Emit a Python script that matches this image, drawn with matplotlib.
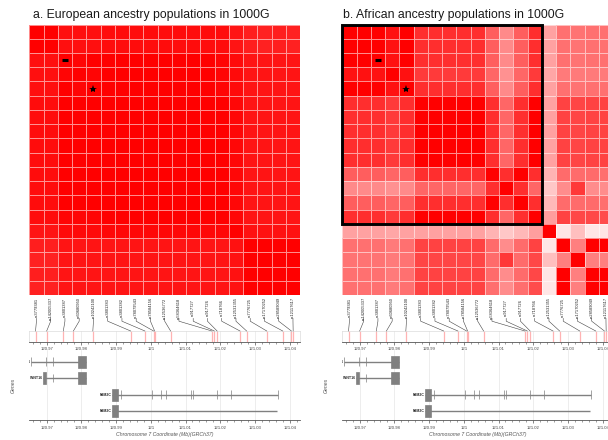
import numpy as np
import matplotlib
matplotlib.use("Agg")
import matplotlib.pyplot as plt
from matplotlib.colors import LinearSegmentedColormap
from matplotlib.patches import Rectangle
from matplotlib.ticker import MultipleLocator, FuncFormatter

plt.rcParams['font.family'] = ['Liberation Sans', 'DejaVu Sans']

# ---------------- data ----------------
snp_ids = ["rs3779381", "rs142005337", "rs3801387", "rs60680950", "rs10242100",
           "rs3801383", "rs3801382", "rs78079543", "rs78584156", "rs12536772",
           "rs58364618", "rs917727", "rs917726", "rs718766", "rs12531355",
           "rs7776725", "rs17170252", "rs28589049", "rs12117617"]
snp_pos_mb = [120.9668, 120.9700, 120.9748, 120.9777, 120.9833,
              120.9942, 120.9983, 121.0008, 121.0011, 121.0057,
              121.0176, 121.0183, 121.0191, 121.0257, 121.0276,
              121.0334, 121.0380, 121.0405, 121.0410]

# r2 matrix, European ancestry (panel a)
r2_eur = [
 [1.00, 1.00, 0.94, 0.94, 0.94, 0.95, 0.95, 0.95, 0.95, 0.95, 0.95, 0.95, 0.95, 0.95, 0.92, 0.88, 0.87, 0.88, 0.87],
 [1.00, 1.00, 0.94, 0.94, 0.94, 0.95, 0.95, 0.95, 0.95, 0.95, 0.95, 0.95, 0.95, 0.95, 0.92, 0.88, 0.87, 0.88, 0.87],
 [0.94, 0.94, 1.00, 0.98, 1.00, 1.00, 1.00, 1.00, 1.00, 1.00, 1.00, 1.00, 1.00, 0.98, 0.96, 0.92, 0.92, 0.92, 0.92],
 [0.94, 0.94, 0.98, 1.00, 0.98, 1.00, 1.00, 1.00, 1.00, 1.00, 1.00, 1.00, 1.00, 0.98, 0.96, 0.92, 0.92, 0.92, 0.92],
 [0.94, 0.94, 1.00, 0.98, 1.00, 1.00, 1.00, 1.00, 1.00, 1.00, 1.00, 1.00, 1.00, 0.98, 0.96, 0.92, 0.92, 0.92, 0.92],
 [0.95, 0.95, 1.00, 1.00, 1.00, 1.00, 1.00, 1.00, 1.00, 1.00, 1.00, 1.00, 1.00, 1.00, 0.97, 0.92, 0.92, 0.92, 0.92],
 [0.95, 0.95, 1.00, 1.00, 1.00, 1.00, 1.00, 1.00, 1.00, 1.00, 1.00, 1.00, 1.00, 1.00, 0.97, 0.92, 0.92, 0.92, 0.92],
 [0.95, 0.95, 1.00, 1.00, 1.00, 1.00, 1.00, 1.00, 1.00, 1.00, 1.00, 1.00, 1.00, 1.00, 0.97, 0.92, 0.92, 0.92, 0.92],
 [0.95, 0.95, 1.00, 1.00, 1.00, 1.00, 1.00, 1.00, 1.00, 1.00, 1.00, 1.00, 1.00, 1.00, 0.97, 0.92, 0.92, 0.92, 0.92],
 [0.95, 0.95, 1.00, 1.00, 1.00, 1.00, 1.00, 1.00, 1.00, 1.00, 1.00, 1.00, 1.00, 1.00, 0.97, 0.92, 0.92, 0.92, 0.92],
 [0.95, 0.95, 1.00, 1.00, 1.00, 1.00, 1.00, 1.00, 1.00, 1.00, 1.00, 1.00, 1.00, 1.00, 0.97, 0.92, 0.92, 0.92, 0.92],
 [0.95, 0.95, 1.00, 1.00, 1.00, 1.00, 1.00, 1.00, 1.00, 1.00, 1.00, 1.00, 1.00, 1.00, 0.97, 0.92, 0.92, 0.92, 0.92],
 [0.95, 0.95, 1.00, 1.00, 1.00, 1.00, 1.00, 1.00, 1.00, 1.00, 1.00, 1.00, 1.00, 1.00, 0.97, 0.92, 0.92, 0.92, 0.92],
 [0.95, 0.95, 0.98, 0.98, 0.98, 1.00, 1.00, 1.00, 1.00, 1.00, 1.00, 1.00, 1.00, 1.00, 0.97, 0.92, 0.92, 0.92, 0.92],
 [0.92, 0.92, 0.96, 0.96, 0.96, 0.97, 0.97, 0.97, 0.97, 0.97, 0.97, 0.97, 0.97, 0.97, 1.00, 0.93, 0.93, 0.93, 0.93],
 [0.88, 0.88, 0.92, 0.92, 0.92, 0.92, 0.92, 0.92, 0.92, 0.92, 0.92, 0.92, 0.92, 0.92, 0.93, 1.00, 1.00, 1.00, 1.00],
 [0.87, 0.87, 0.92, 0.92, 0.92, 0.92, 0.92, 0.92, 0.92, 0.92, 0.92, 0.92, 0.92, 0.92, 0.93, 1.00, 1.00, 1.00, 1.00],
 [0.88, 0.88, 0.92, 0.92, 0.92, 0.92, 0.92, 0.92, 0.92, 0.92, 0.92, 0.92, 0.92, 0.92, 0.93, 1.00, 1.00, 1.00, 1.00],
 [0.87, 0.87, 0.92, 0.92, 0.92, 0.92, 0.92, 0.92, 0.92, 0.92, 0.92, 0.92, 0.92, 0.92, 0.93, 1.00, 1.00, 1.00, 1.00],
]

# r2 matrix, African ancestry (panel b)
r2_afr = [
 [1.00, 1.00, 1.00, 0.93, 1.00, 0.82, 0.82, 0.82, 0.82, 0.82, 0.63, 0.46, 0.63, 0.82, 0.37, 0.56, 0.55, 0.56, 0.56],
 [1.00, 1.00, 1.00, 0.93, 1.00, 0.82, 0.82, 0.82, 0.82, 0.82, 0.63, 0.46, 0.63, 0.82, 0.37, 0.56, 0.55, 0.56, 0.56],
 [1.00, 1.00, 1.00, 0.93, 1.00, 0.82, 0.82, 0.82, 0.82, 0.82, 0.63, 0.46, 0.63, 0.82, 0.37, 0.56, 0.55, 0.56, 0.56],
 [0.93, 0.93, 0.93, 1.00, 0.93, 0.77, 0.77, 0.77, 0.77, 0.77, 0.60, 0.43, 0.60, 0.77, 0.35, 0.52, 0.52, 0.52, 0.52],
 [1.00, 1.00, 1.00, 0.93, 1.00, 0.82, 0.82, 0.82, 0.82, 0.82, 0.63, 0.46, 0.63, 0.82, 0.37, 0.56, 0.55, 0.56, 0.56],
 [0.82, 0.82, 0.82, 0.77, 0.82, 1.00, 1.00, 1.00, 1.00, 1.00, 0.82, 0.60, 0.82, 1.00, 0.37, 0.74, 0.73, 0.74, 0.74],
 [0.82, 0.82, 0.82, 0.77, 0.82, 1.00, 1.00, 1.00, 1.00, 1.00, 0.82, 0.60, 0.82, 1.00, 0.37, 0.74, 0.73, 0.74, 0.74],
 [0.82, 0.82, 0.82, 0.77, 0.82, 1.00, 1.00, 1.00, 1.00, 1.00, 0.82, 0.60, 0.82, 1.00, 0.37, 0.74, 0.73, 0.74, 0.74],
 [0.82, 0.82, 0.82, 0.77, 0.82, 1.00, 1.00, 1.00, 1.00, 1.00, 0.82, 0.60, 0.82, 1.00, 0.37, 0.74, 0.73, 0.74, 0.74],
 [0.82, 0.82, 0.82, 0.77, 0.82, 1.00, 1.00, 1.00, 1.00, 1.00, 0.82, 0.60, 0.82, 1.00, 0.37, 0.74, 0.73, 0.74, 0.74],
 [0.63, 0.63, 0.63, 0.60, 0.63, 0.82, 0.82, 0.82, 0.82, 0.82, 1.00, 0.82, 1.00, 0.82, 0.30, 0.58, 0.58, 0.58, 0.57],
 [0.46, 0.46, 0.46, 0.43, 0.46, 0.60, 0.60, 0.60, 0.60, 0.60, 0.82, 1.00, 0.82, 0.60, 0.22, 0.45, 0.78, 0.45, 0.45],
 [0.63, 0.63, 0.63, 0.60, 0.63, 0.82, 0.82, 0.82, 0.82, 0.82, 1.00, 0.82, 1.00, 0.82, 0.28, 0.58, 0.58, 0.58, 0.57],
 [0.82, 0.82, 0.82, 0.77, 0.82, 1.00, 1.00, 1.00, 1.00, 1.00, 0.82, 0.60, 0.82, 1.00, 0.38, 0.74, 0.72, 0.72, 0.70],
 [0.37, 0.37, 0.37, 0.35, 0.37, 0.37, 0.37, 0.37, 0.37, 0.37, 0.30, 0.22, 0.28, 0.38, 1.00, 0.10, 0.25, 0.10, 0.10],
 [0.56, 0.56, 0.56, 0.52, 0.56, 0.74, 0.74, 0.74, 0.74, 0.74, 0.58, 0.45, 0.58, 0.74, 0.10, 1.00, 0.50, 1.00, 1.00],
 [0.55, 0.55, 0.55, 0.52, 0.55, 0.73, 0.73, 0.73, 0.73, 0.73, 0.58, 0.78, 0.58, 0.72, 0.25, 0.50, 1.00, 0.50, 0.50],
 [0.56, 0.56, 0.56, 0.52, 0.56, 0.74, 0.74, 0.74, 0.74, 0.74, 0.58, 0.45, 0.58, 0.72, 0.10, 1.00, 0.50, 1.00, 1.00],
 [0.56, 0.56, 0.56, 0.52, 0.56, 0.74, 0.74, 0.74, 0.74, 0.74, 0.57, 0.45, 0.57, 0.70, 0.10, 1.00, 0.50, 1.00, 1.00],
]

panel_titles = ["a. European ancestry populations in 1000G",
                "b. African ancestry populations in 1000G"]
dash_snp = 2      # index of SNP marked with "-"
star_snp = 4      # index of SNP marked with "*"
block_size_afr = 14   # highlighted LD block in panel b

# gene transcripts: name, row, transcript span, exons (start, end) in Mb
transcripts = [
    ("WNT16", 0, 120.96542, 120.98124,
     [(120.96542, 120.96552), (120.96968, 120.96975), (120.97170, 120.97177), (120.97890, 120.98124)]),
    ("WNT16", 1, 120.96900, 120.98124,
     [(120.96900, 120.96968), (120.97170, 120.97177), (120.97890, 120.98124)]),
    ("FAM3C", 2, 120.98891, 121.03657,
     [(120.98891, 120.99063), (120.99130, 120.99137), (121.00023, 121.00030), (121.00300, 121.00307),
      (121.00426, 121.00433), (121.01147, 121.01154), (121.01204, 121.01211), (121.01905, 121.01912),
      (121.02317, 121.02324), (121.03650, 121.03657)]),
    ("FAM3C", 3, 120.98891, 121.03640,
     [(120.98891, 120.99063)]),
]

x_range_mb = (120.965, 121.043)

# ---------------- figure ----------------
W, H = 608, 440
fig = plt.figure(figsize=(W / 100, H / 100), dpi=100)
fig.patch.set_facecolor("white")


def px_axes(x, y, w, h):
    return fig.add_axes([x / W, 1 - (y + h) / H, w / W, h / H])


cmap = LinearSegmentedColormap.from_list("ldred", ["#ffffff", "#ff0000"])
n = len(snp_ids)
dxs = [0.0, 313.0]
title_x = [33.3, 342.7]
hm_left = 29.3
hm_w = 270.8
fmt = FuncFormatter(lambda v, p: ("%.2f" % v).rstrip("0").rstrip("."))

for k, (mat, dx) in enumerate(zip([r2_eur, r2_afr], dxs)):
    L = hm_left + dx
    # heatmap
    ax = px_axes(L, 24.5, hm_w, 270.5)
    ax.pcolormesh(np.arange(n + 1), np.arange(n + 1), np.array(mat), cmap=cmap,
                  vmin=0, vmax=1, edgecolors=(1, 1, 1, 0.55), linewidth=0.7)
    ax.set_xlim(0, n)
    ax.set_ylim(n, 0)
    ax.axis("off")
    ax.plot([dash_snp + 0.5], [dash_snp + 0.5], marker="_", ms=4.5, mew=2.2, color="black")
    ax.plot([star_snp + 0.5], [star_snp + 0.5], marker="*", ms=6, color="black", mew=0)
    if k == 1:
        ax.add_patch(Rectangle((0, 0), block_size_afr, block_size_afr, fill=False,
                               ec="black", lw=2.1, clip_on=False, zorder=5))
    fig.text(title_x[k] / W, 1 - 15 / H, panel_titles[k], fontsize=8.8,
             color="#1a1a1a", va="center", ha="left")

    # position track
    axt = px_axes(L, 331, hm_w, 10.8)
    axt.set_xlim(*x_range_mb)
    axt.set_ylim(0, 1)
    axt.set_yticks([])
    for s in ["top", "left", "right"]:
        axt.spines[s].set_color("#dcdcdc")
        axt.spines[s].set_linewidth(0.5)
    axt.spines["bottom"].set_color("#555555")
    axt.spines["bottom"].set_linewidth(0.6)
    axt.xaxis.set_major_locator(MultipleLocator(0.01))
    axt.xaxis.set_minor_locator(MultipleLocator(0.002))
    axt.xaxis.set_major_formatter(fmt)
    axt.tick_params(axis="x", which="major", length=2.5, width=0.5, colors="#555555",
                    labelsize=3.1, pad=1.5, labelcolor="#444444")
    axt.tick_params(axis="x", which="minor", length=1.5, width=0.4, colors="#555555")
    axt.grid(axis="x", which="major", color="#e8e8e8", lw=0.5)
    axt.vlines(snp_pos_mb, 0, 1, colors="#ffb3b3", lw=0.9)

    # connectors and SNP labels
    axc = px_axes(L, 296, hm_w, 35)
    axc.set_xlim(*x_range_mb)
    axc.set_ylim(1, 0)
    axc.axis("off")
    inv = axc.transData.inverted()
    for i, (name, pos) in enumerate(zip(snp_ids, snp_pos_mb)):
        xd = ax.transData.transform((i + 0.5, 0))[0]
        xc = inv.transform((xd, 0))[0]
        axc.plot([xc, xc, pos], [0.64, 0.72, 1.0], color="#444444", lw=0.4,
                 clip_on=False, solid_joinstyle="round")
        axc.text(xc, 0.34, name, rotation=90, fontsize=2.9, ha="center", va="center",
                 color="#222222")

    # gene track
    axg = px_axes(L, 350, hm_w, 70)
    axg.set_xlim(*x_range_mb)
    axg.set_ylim(3.55, -0.71)
    axg.set_yticks([])
    for s in ["top", "left", "right"]:
        axg.spines[s].set_visible(False)
    axg.spines["bottom"].set_color("#555555")
    axg.spines["bottom"].set_linewidth(0.6)
    axg.xaxis.set_major_locator(MultipleLocator(0.01))
    axg.xaxis.set_minor_locator(MultipleLocator(0.002))
    axg.xaxis.set_major_formatter(fmt)
    axg.tick_params(axis="x", which="major", length=2.5, width=0.5, colors="#555555",
                    labelsize=3.1, pad=1.5, labelcolor="#444444")
    axg.tick_params(axis="x", which="minor", length=1.5, width=0.4, colors="#555555")
    axg.grid(axis="x", which="major", color="#e6e6e6", lw=0.5)
    axg.set_axisbelow(True)
    axg.set_xlabel("Chromosome 7 Coordinate (Mb)(GRCh37)", fontsize=3.7,
                   style="italic", color="#555555", labelpad=1.5)
    axg.set_ylabel("Genes", fontsize=3.7, style="italic", color="#555555", labelpad=10)
    for name, row, t0, t1, exons in transcripts:
        axg.hlines(row, t0, t1, color="#808080", lw=1.0, zorder=3)
        for e0, e1 in exons:
            hgt = 0.73 if (e1 - e0) > 0.0005 else 0.52
            axg.add_patch(Rectangle((e0, row - hgt / 2), max(e1 - e0, 0.00007), hgt,
                                    fc="#808080", ec="#808080", lw=0.5, zorder=4))
        axg.text(t0 - 0.0003, row, name, fontsize=2.5, fontweight="bold", ha="right",
                 va="center", color="#222222", clip_on=True)

fig.savefig("out.png", dpi=100)
